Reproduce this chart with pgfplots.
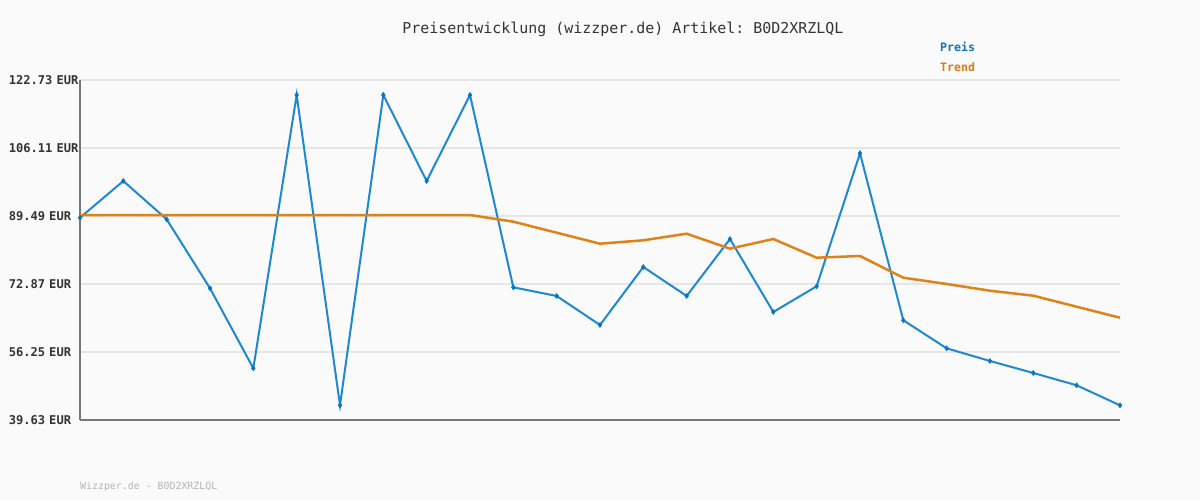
\documentclass[border=0pt]{standalone}
\usepackage{pgfplots}
\pgfplotsset{compat=1.18}
\usepackage{fontspec}
\setmonofont{DejaVu Sans Mono}
\definecolor{bg}{HTML}{FAFAFA}
\definecolor{preis}{HTML}{1E88D0}
\definecolor{preistxt}{HTML}{0A74C2}
\definecolor{trend}{HTML}{E0821A}
\definecolor{trendtxt}{HTML}{DD7A10}
\definecolor{gridc}{HTML}{E6E6E6}
\definecolor{axisc}{HTML}{777777}
\definecolor{txt}{HTML}{333333}
\definecolor{foot}{HTML}{B4B4B4}
\begin{document}
\begin{tikzpicture}[x=1pt,y=1pt]
\fill[bg] (0,0) rectangle (1200,500);
\useasboundingbox (0,0) rectangle (1200,500);
\node[font=\ttfamily\fontsize{14.95}{16}\selectfont, text=txt, inner sep=0pt] at (623,471) {Preisentwicklung (wizzper.de) Artikel: B0D2XRZLQL};
\node[font=\ttfamily\fontsize{9.9}{11}\selectfont, text=foot, anchor=west, inner sep=0pt] at (80,13) {Wizzper.de - B0D2XRZLQL};
\begin{axis}[
  at={(80pt,80pt)}, anchor=south west,
  scale only axis, width=1040pt, height=340pt,
  xmin=0, xmax=24, ymin=39.63, ymax=122.73,
  axis lines*=left,
  axis line style={draw=axisc, line width=2pt},
  xtick=\empty,
  ytick={39.63,56.25,72.87,89.49,106.11,122.73},
  yticklabels={39.63 EUR,56.25 EUR,72.87 EUR,89.49 EUR,106.11 EUR,122.73 EUR},
  yticklabel style={font=\ttfamily\bfseries\fontsize{12.1}{13}\selectfont, text=txt, text width=71pt, align=left, anchor=east, inner sep=0pt},
  major tick length=0pt,
  ymajorgrids,
  grid style={draw=gridc, line width=2pt},
  clip=false,
  legend style={at={(0.825,1.117)}, anchor=north west, draw=none, fill=none,
    font=\ttfamily\bfseries\fontsize{11.6}{13}\selectfont, row sep=5pt, inner sep=0pt},
  legend cell align=left,
  legend image code/.code={},
]
\addplot[color=preis, line width=2pt, mark=diamond*, mark size=2.5pt, mark options={fill=preistxt, draw=preistxt, line width=0.5pt}] coordinates {
(0,89.07) (1,98.04) (2,88.68) (3,71.82) (4,52.27) (5,119.06) (6,43.22) (7,119.06) (8,98.04) (9,119.06)
(10,72.06) (11,69.94) (12,62.85) (13,77.03) (14,69.94) (15,83.87) (16,66.03) (17,72.31) (18,104.81) (19,64.00)
(20,57.15) (21,54.05) (22,51.12) (23,48.11) (24,43.22)};
\addlegendentry{\textcolor{preistxt}{Preis}}
\addplot[color=trend, line width=2.5pt, mark=none] coordinates {
(0,89.73) (1,89.73) (2,89.73) (3,89.73) (4,89.73) (5,89.73) (6,89.73) (7,89.73) (8,89.73) (9,89.73)
(10,88.10) (11,85.41) (12,82.72) (13,83.55) (14,85.16) (15,81.50) (16,83.87) (17,79.30) (18,79.71) (19,74.41)
(20,72.87) (21,71.23) (22,70.01) (23,67.32) (24,64.63)};
\addlegendentry{\textcolor{trendtxt}{Trend}}
\end{axis}
\end{tikzpicture}
\end{document}
